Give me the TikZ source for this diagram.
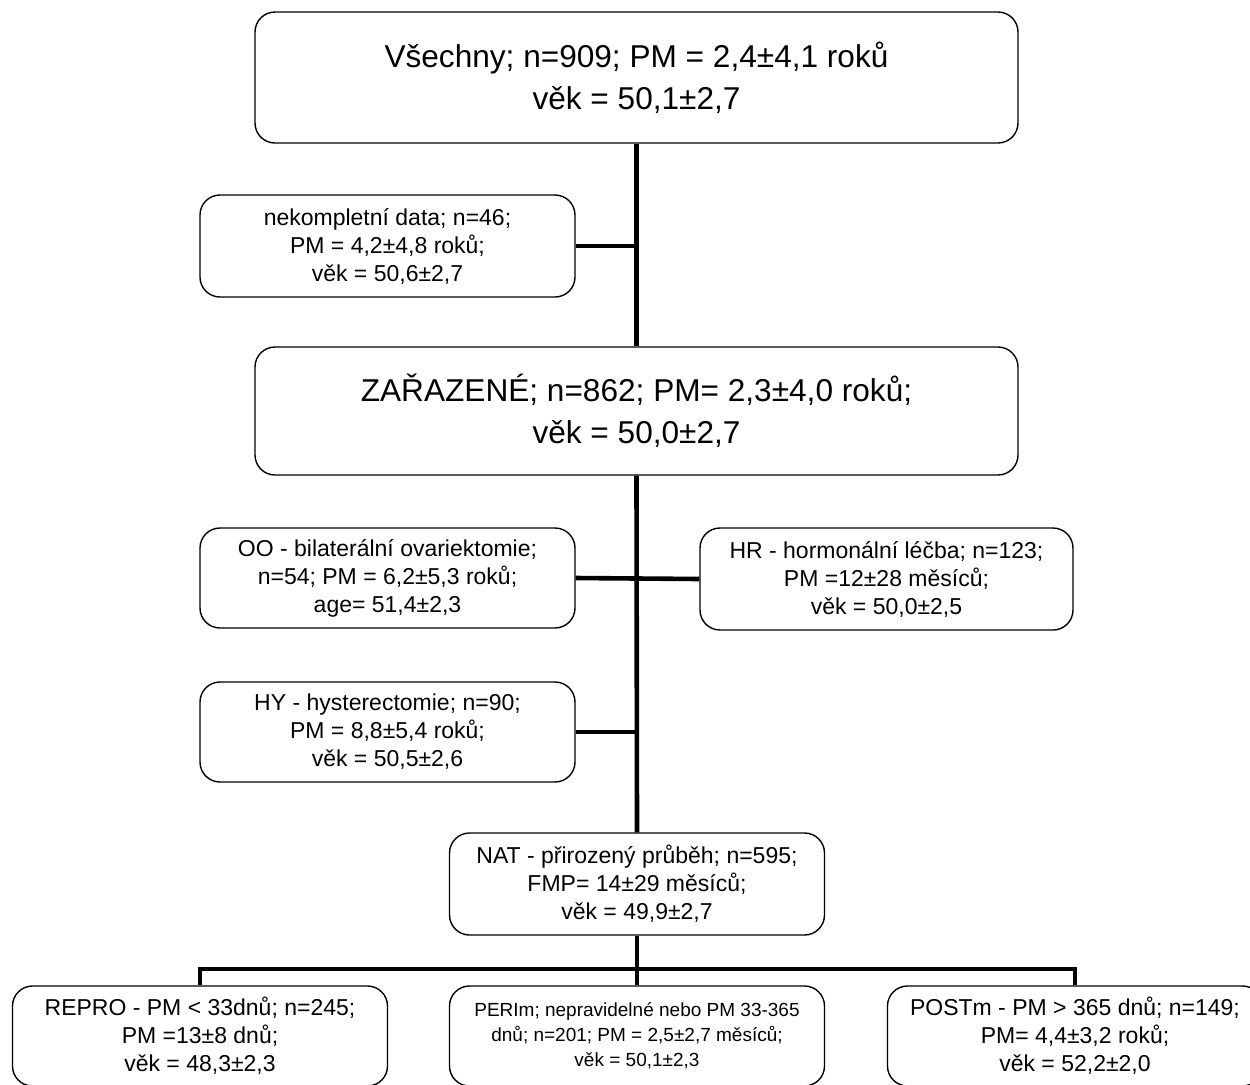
\documentclass[tikz,border=0pt]{standalone}
\usepackage{fontspec}
\setmainfont{Liberation Sans}
\usetikzlibrary{calc,positioning}

\begin{document}
\begin{tikzpicture}[x=0.5pt,y=-0.5pt,
    box/.style={draw,rounded corners=10pt,line width=0.7pt,align=center,inner sep=0pt},
    big/.style={box,minimum width=381.5pt,font=\fontsize{15.8}{21}\selectfont},
    small/.style={box,minimum width=187.5pt,minimum height=50pt,font=\fontsize{11.5}{14}\selectfont},
    tiny/.style={small,font=\fontsize{9.5}{12.5}\selectfont},
    link/.style={line width=2.3pt}]
  \useasboundingbox (0,0) rectangle (1250,1084);

  \node[big,minimum height=65.5pt] (all) at (636.5,77.5) {Všechny; n=909; PM = 2,4±4,1 roků\\věk = 50,1±2,7};
  \node[small,minimum height=51pt] (nd) at (387.5,246) {nekompletní data; n=46;\\PM = 4,2±4,8 roků;\\věk = 50,6±2,7};
  \node[big,minimum height=64pt] (incl) at (636.5,411) {ZAŘAZENÉ; n=862; PM= 2,3±4,0 roků;\\věk = 50,0±2,7};

  \node[small] (oo) at (387.5,578) {OO - bilaterální ovariektomie;\\n=54; PM = 6,2±5,3 roků;\\age= 51,4±2,3};
  \node[small,minimum width=186.5pt,minimum height=51pt] (hr) at (886.5,579) {HR - hormonální léčba; n=123;\\PM =12±28 měsíců;\\věk = 50,0±2,5};
  \node[small] (hy) at (387.5,732) {HY - hysterectomie; n=90;\\PM = 8,8±5,4 roků;\\věk = 50,5±2,6};
  \node[small,minimum height=51pt] (nat) at (637,884) {NAT - přirozený průběh; n=595;\\FMP= 14±29 měsíců;\\věk = 49,9±2,7};

  \node[small] (repro) at (200,1036) {REPRO - PM < 33dnů; n=245;\\PM =13±8 dnů;\\věk = 48,3±2,3};
  \node[tiny] (perim) at (637,1036) {PERIm; nepravidelné nebo PM 33-365\\dnů; n=201; PM = 2,5±2,7 měsíců;\\věk = 50,1±2,3};
  \node[small] (postm) at (1075,1036) {POSTm - PM > 365 dnů; n=149;\\PM= 4,4±3,2 roků;\\věk = 52,2±2,0};

  % trunk and side branches
  \draw[link] (all.south) -- (incl.north);
  \draw[link] (nd.east) -- (nd.east -| all.south);
  \draw[link] (incl.south) -- (nat.north);
  \draw[link] (oo.east) -- (hr.west);
  \draw[link] (hy.east) -- (hy.east -| nat.north);

  % bottom split
  \coordinate (bus) at (637,969);
  \draw[link] (nat.south) -- (perim.north);
  \draw[link] (repro.north) |- (bus) -| (postm.north);
\end{tikzpicture}
\end{document}
